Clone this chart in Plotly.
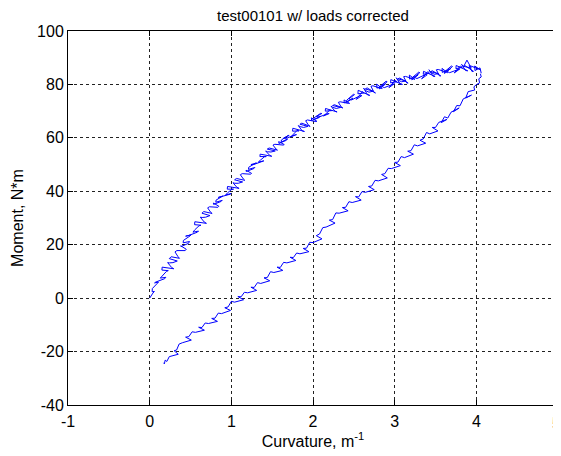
import plotly.graph_objects as go

# Loading branch (curvature m^-1, moment N*m).
# Samples "a" and the in-between samples "b" alternate along the recorded trace.
loading_x_a = [
    0.000, 0.040, 0.030, 0.095, 0.060, 0.185, 0.130, 0.205, 0.150, 0.295, 0.220, 0.285, 0.240, 0.365, 0.310, 0.435,
    0.380, 0.475, 0.410, 0.495, 0.440, 0.585, 0.530, 0.605, 0.550, 0.695, 0.620, 0.685, 0.640, 0.765, 0.710, 0.835,
    0.780, 0.875, 0.810, 0.895, 0.840, 0.985, 0.930, 1.005, 0.950, 1.095, 1.020, 1.085, 1.040, 1.165, 1.110, 1.235,
    1.180, 1.275, 1.210, 1.295, 1.240, 1.385, 1.330, 1.405, 1.350, 1.495, 1.420, 1.485, 1.440, 1.565, 1.510, 1.635,
    1.580, 1.675, 1.610, 1.695, 1.640, 1.785, 1.730, 1.805, 1.750, 1.895, 1.820, 1.885, 1.840, 1.965, 1.910, 2.035,
    1.980, 2.075, 2.010, 2.095, 2.040, 2.185, 2.130, 2.205, 2.150, 2.295, 2.220, 2.285, 2.240, 2.365, 2.310, 2.435,
    2.380, 2.475, 2.410, 2.495, 2.440, 2.585, 2.530, 2.605, 2.550, 2.695, 2.620, 2.685, 2.640, 2.765, 2.710, 2.835,
    2.780, 2.875, 2.810, 2.895, 2.840, 2.985, 2.930, 3.005, 2.950, 3.095, 3.020, 3.085, 3.040, 3.165, 3.110, 3.235,
    3.180, 3.275, 3.210, 3.295, 3.240, 3.385, 3.330, 3.405, 3.350, 3.495, 3.420, 3.485, 3.440, 3.565, 3.510, 3.635,
    3.580, 3.675, 3.610, 3.695, 3.640, 3.785, 3.730, 3.805, 3.750, 3.895, 3.820, 3.885, 3.840, 3.965, 3.910, 4.035,
    3.980, 4.045, 4.060,
]
loading_y_a = [
    0.0, 1.9, 2.4, 5.4, 5.7, 7.3, 7.5, 10.0, 10.5, 11.0, 13.3, 13.3, 14.8, 14.9, 17.3, 17.8,
    19.6, 20.5, 20.7, 23.3, 23.2, 24.7, 24.7, 27.1, 27.5, 28.0, 30.3, 30.3, 31.8, 31.7, 33.8, 34.0,
    35.6, 36.2, 35.9, 38.2, 37.7, 38.9, 38.6, 40.7, 40.8, 41.1, 43.2, 43.0, 44.3, 44.1, 46.2, 46.4,
    47.9, 48.5, 48.2, 50.5, 50.0, 51.2, 50.9, 52.9, 53.0, 53.1, 55.1, 54.7, 55.8, 55.4, 57.3, 57.3,
    58.6, 59.1, 58.4, 60.9, 59.9, 61.2, 60.4, 62.8, 62.5, 62.4, 64.6, 63.9, 65.1, 64.3, 66.4, 66.1,
    67.5, 67.6, 66.8, 69.2, 68.0, 69.1, 68.2, 70.4, 70.0, 69.7, 71.9, 71.0, 72.1, 71.2, 73.3, 72.9,
    74.2, 74.5, 73.2, 76.3, 74.6, 75.9, 74.4, 77.3, 76.5, 75.9, 78.6, 77.1, 78.3, 76.8, 79.3, 78.5,
    80.1, 79.9, 78.3, 81.2, 79.3, 80.4, 78.8, 81.5, 80.6, 80.0, 82.5, 81.0, 82.1, 80.5, 82.9, 82.0,
    83.5, 83.3, 81.7, 84.6, 82.7, 83.8, 82.1, 84.8, 83.8, 83.0, 85.5, 83.8, 84.8, 83.2, 85.5, 84.6,
    86.0, 85.7, 84.1, 86.9, 84.9, 85.9, 84.3, 86.9, 85.9, 85.1, 87.5, 89.1, 86.8, 84.9, 87.0, 85.7,
    86.9, 86.2, 84.2,
]
loading_x_b = [
    0.010, 0.058, 0.033, 0.108, 0.073, 0.198, 0.153, 0.228, 0.153, 0.268, 0.243, 0.338, 0.263, 0.348, 0.333, 0.448,
    0.383, 0.488, 0.413, 0.508, 0.473, 0.598, 0.553, 0.628, 0.553, 0.668, 0.643, 0.738, 0.663, 0.748, 0.733, 0.848,
    0.783, 0.888, 0.813, 0.908, 0.873, 0.998, 0.953, 1.028, 0.953, 1.068, 1.043, 1.138, 1.063, 1.148, 1.133, 1.248,
    1.183, 1.288, 1.213, 1.308, 1.273, 1.398, 1.353, 1.428, 1.353, 1.468, 1.443, 1.538, 1.463, 1.548, 1.533, 1.648,
    1.583, 1.688, 1.613, 1.708, 1.673, 1.798, 1.753, 1.828, 1.753, 1.868, 1.843, 1.938, 1.863, 1.948, 1.933, 2.048,
    1.983, 2.088, 2.013, 2.108, 2.073, 2.198, 2.153, 2.228, 2.153, 2.268, 2.243, 2.338, 2.263, 2.348, 2.333, 2.448,
    2.383, 2.488, 2.413, 2.508, 2.473, 2.598, 2.553, 2.628, 2.553, 2.668, 2.643, 2.738, 2.663, 2.748, 2.733, 2.848,
    2.783, 2.888, 2.813, 2.908, 2.873, 2.998, 2.953, 3.028, 2.953, 3.068, 3.043, 3.138, 3.063, 3.148, 3.133, 3.248,
    3.183, 3.288, 3.213, 3.308, 3.273, 3.398, 3.353, 3.428, 3.353, 3.468, 3.443, 3.538, 3.463, 3.548, 3.533, 3.648,
    3.583, 3.688, 3.613, 3.708, 3.673, 3.798, 3.753, 3.828, 3.753, 3.868, 3.843, 3.938, 3.863, 3.948, 3.933, 4.048,
    3.983, 4.050,
]
loading_y_b = [
    0.6, 2.5, 3.6, 6.0, 6.0, 7.8, 8.4, 10.3, 11.6, 11.5, 13.2, 13.9, 15.5, 15.5, 17.8, 18.3,
    19.3, 21.2, 21.6, 23.7, 23.4, 25.1, 25.6, 27.3, 28.6, 28.5, 30.2, 30.9, 32.4, 32.1, 34.2, 34.4,
    35.1, 36.6, 36.7, 38.3, 37.8, 39.2, 39.4, 40.8, 41.8, 41.5, 43.0, 43.5, 44.8, 44.6, 46.6, 46.7,
    47.4, 48.9, 49.0, 50.6, 50.0, 51.4, 51.6, 53.0, 53.9, 53.5, 54.8, 55.1, 56.2, 55.8, 57.6, 57.5,
    57.9, 59.6, 59.2, 60.9, 59.8, 61.2, 61.2, 62.6, 63.6, 62.6, 64.2, 64.3, 65.5, 64.6, 66.7, 66.2,
    66.5, 68.1, 67.5, 69.1, 67.8, 69.1, 68.9, 70.2, 71.0, 70.0, 71.4, 71.4, 72.4, 71.5, 73.5, 72.9,
    73.1, 74.9, 74.1, 76.2, 74.2, 75.8, 75.3, 76.8, 77.8, 76.1, 77.7, 77.5, 78.7, 77.0, 79.5, 78.5,
    78.6, 80.2, 79.1, 81.0, 78.8, 80.3, 79.6, 81.0, 81.8, 80.1, 81.6, 81.3, 82.4, 80.6, 83.0, 81.9,
    82.0, 83.6, 82.5, 84.4, 82.2, 83.6, 82.9, 84.2, 84.9, 83.1, 84.5, 84.0, 85.1, 83.2, 85.6, 84.4,
    84.5, 86.0, 84.8, 86.7, 84.4, 85.8, 85.0, 86.4, 87.1, 85.2, 86.6, 86.1, 87.0, 84.8, 86.9, 85.5,
    85.2, 85.1,
]

# Unloading branch
unloading_x = [
    4.05, 4.06, 4.03, 4.04, 4.00, 3.97, 3.98, 3.94, 3.90, 3.87, 3.94, 3.84, 3.80, 3.76, 3.72, 3.79,
    3.69, 3.65, 3.61, 3.57, 3.64, 3.54, 3.50, 3.46, 3.53, 3.43, 3.39, 3.35, 3.31, 3.38, 3.28, 3.24,
    3.20, 3.16, 3.23, 3.12, 3.08, 3.04, 3.00, 3.07, 2.96, 2.92, 2.88, 2.84, 2.91, 2.80, 2.76, 2.72,
    2.68, 2.75, 2.64, 2.60, 2.56, 2.52, 2.59, 2.48, 2.44, 2.40, 2.36, 2.43, 2.32, 2.28, 2.24, 2.20,
    2.27, 2.16, 2.12, 2.08, 2.04, 2.11, 2.00, 1.96, 1.92, 1.88, 1.95, 1.84, 1.80, 1.76, 1.72, 1.79,
    1.68, 1.64, 1.60, 1.56, 1.63, 1.52, 1.48, 1.44, 1.40, 1.47, 1.36, 1.32, 1.28, 1.24, 1.31, 1.20,
    1.16, 1.12, 1.08, 1.15, 1.04, 1.00, 0.96, 0.92, 0.99, 0.88, 0.84, 0.80, 0.76, 0.83, 0.72, 0.68,
    0.64, 0.60, 0.67, 0.56, 0.52, 0.48, 0.44, 0.51, 0.40, 0.36, 0.33, 0.30, 0.35, 0.27, 0.24, 0.21,
    0.19, 0.18, 0.17,
]
unloading_y = [
    84.0, 82.8, 82.1, 80.6, 79.9, 79.1, 77.9, 77.6, 77.3, 74.9, 76.0, 74.6, 72.0, 72.1, 69.8, 71.2,
    69.6, 67.4, 67.9, 65.7, 66.9, 65.8, 63.9, 63.9, 62.6, 61.5, 62.0, 59.6, 59.1, 58.0, 57.0, 57.4,
    55.2, 55.0, 53.9, 52.6, 53.0, 50.9, 50.8, 49.6, 48.5, 48.6, 46.6, 46.3, 45.0, 43.9, 44.1, 42.0,
    41.8, 40.6, 39.6, 39.9, 37.9, 38.0, 36.7, 35.8, 36.1, 34.0, 33.9, 32.7, 31.8, 31.9, 29.4, 29.2,
    28.1, 26.6, 26.4, 24.0, 23.4, 22.2, 20.8, 20.9, 18.7, 18.6, 17.4, 16.6, 16.9, 15.2, 15.3, 14.1,
    13.2, 13.4, 11.5, 11.6, 10.4, 9.6, 9.9, 7.7, 7.6, 6.5, 5.5, 5.8, 4.0, 4.1, 2.9, 2.0,
    2.2, 0.5, 0.6, -0.6, -1.5, -1.2, -3.3, -3.6, -4.6, -5.8, -5.6, -7.5, -7.6, -8.7, -9.5, -9.3,
    -11.0, -10.9, -12.0, -12.8, -12.6, -14.4, -14.6, -15.7, -16.7, -17.2, -19.4, -19.7, -21.0, -21.8, -21.9, -23.7,
    -23.2, -24.6, -24.2,
]

x_ticks = [-1, 0, 1, 2, 3, 4, 5]
x_tick_labels = ["-1", "0", "1", "2", "3", "4", "5"]
y_ticks = [-40, -20, 0, 20, 40, 60, 80, 100]
y_tick_labels = ["-40", "-20", "0", "20", "40", "60", "80", "100"]

# Alternate the two sample sets to rebuild the recorded loading trace.
loading_x, loading_y = [], []
for i in range(len(loading_x_b)):
    loading_x += [loading_x_a[i], loading_x_b[i]]
    loading_y += [loading_y_a[i], loading_y_b[i]]
loading_x.append(loading_x_a[-1])
loading_y.append(loading_y_a[-1])

FONT = "Liberation Sans, Arial, sans-serif"
BLUE = "#0000ff"

# The page body has a default 8px margin, so the figure is sized to fit the
# 561x456 window with that offset.
W, H = 553, 448

fig = go.Figure()
fig.add_trace(go.Scatter(x=loading_x, y=loading_y, mode="lines",
                         line=dict(color=BLUE, width=1), showlegend=False))
fig.add_trace(go.Scatter(x=unloading_x, y=unloading_y, mode="lines",
                         line=dict(color=BLUE, width=1), showlegend=False))

axis_common = dict(
    showline=True, linecolor="black", linewidth=1, mirror="ticks",
    ticks="inside", ticklen=5, tickcolor="black", tickwidth=1,
    showgrid=True, gridcolor="#222222", gridwidth=1, griddash="dot",
    zeroline=False, automargin=False, ticklabeloverflow="allow",
    tickfont=dict(family=FONT, size=16, color="black"),
)

# The last x tick label sits on the window edge; draw it as a text note so
# that it is not dropped.
x_tick_text_shown = [t if v != x_ticks[-1] else "" for v, t in zip(x_ticks, x_tick_labels)]

fig.update_layout(
    width=W, height=H,
    margin=dict(l=60, r=3, t=23, b=51, autoexpand=False),
    paper_bgcolor="white", plot_bgcolor="white",
    title=dict(text="test00101 w/ loads corrected", x=0.5, xref="paper",
               y=1, yref="container", yanchor="top", pad=dict(t=2, b=0),
               font=dict(family=FONT, size=15, color="black")),
    xaxis=dict(range=[-1, 5], tickvals=x_ticks, ticktext=x_tick_text_shown,
               ticklabelstandoff=2,
               title=dict(text="Curvature, m<sup>-1</sup>", standoff=0,
                          font=dict(family=FONT, size=16, color="black")),
               **axis_common),
    yaxis=dict(range=[-40, 100], tickvals=y_ticks, ticktext=y_tick_labels,
               title=dict(text="Moment, N*m", standoff=9,
                          font=dict(family=FONT, size=16, color="black")),
               **axis_common),
    annotations=[dict(x=x_ticks[-1], xref="x", y=0, yref="paper",
                      text=x_tick_labels[-1], showarrow=False,
                      xanchor="center", yanchor="middle", yshift=-18, xshift=-2,
                      font=dict(family=FONT, size=16, color="black"))],
)

fig.write_html("out.html")
